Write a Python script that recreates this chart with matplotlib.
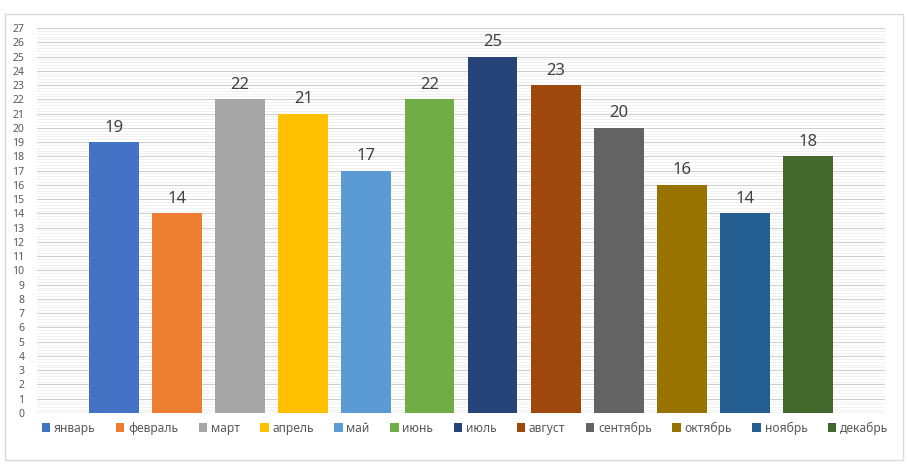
import numpy as np
import matplotlib.pyplot as plt
from matplotlib.patches import Rectangle

# Data: one value per month
months = ['январь', 'февраль', 'март', 'апрель', 'май', 'июнь',
          'июль', 'август', 'сентябрь', 'октябрь', 'ноябрь', 'декабрь']
values = [19, 14, 22, 21, 17, 22, 25, 23, 20, 16, 14, 18]
colors = ['#4472C4', '#ED7D31', '#A5A5A5', '#FFC000', '#5B9BD5', '#70AD47',
          '#264478', '#9E480E', '#636363', '#997300', '#255E91', '#43682B']

plt.rcParams['font.family'] = ['Noto Sans', 'DejaVu Sans']

fig = plt.figure(figsize=(9.08, 4.67), dpi=100)
ax = fig.add_axes([37 / 908, 1 - 413 / 467, (885 - 37) / 908, (413 - 28) / 467])

# outer chart border
fig.patches.append(Rectangle((5 / 908, 1 - 460 / 467), 898 / 908, 446 / 467,
                             transform=fig.transFigure, fill=False,
                             edgecolor='#D9D9D9', linewidth=1))

x = np.arange(len(months))
bars = ax.bar(x, values, width=0.79, color=colors, label=months, zorder=3)
for xi, v in zip(x, values):
    ax.text(xi, v + 0.45, str(v), ha='center', va='bottom',
            fontsize=12, color='#404040')

ax.set_xlim(-1.22, 11 + 1.22)
ax.set_ylim(0, 27)
ax.set_yticks(range(0, 28))
ax.set_yticks(np.arange(0, 27, 0.2), minor=True)
ax.tick_params(axis='y', which='both', length=0, labelsize=7.5, colors='#595959', pad=9)
ax.set_xticks([])
ax.grid(axis='y', which='major', color='#D0D0D0', linewidth=0.8, zorder=0)
ax.grid(axis='y', which='minor', color='#EFEFEF', linewidth=0.6, zorder=0)
for s in ax.spines.values():
    s.set_visible(False)
ax.axhline(0, color='#D0D0D0', linewidth=1, zorder=2)

fig.legend(bars, months, loc='center', bbox_to_anchor=(0.512, 1 - 428 / 467),
           ncol=12, frameon=False, fontsize=8.7, handlelength=0.7,
           handleheight=0.7, handletextpad=0.3, columnspacing=1.7,
           labelcolor='#595959')

fig.savefig('out.png', dpi=100)
